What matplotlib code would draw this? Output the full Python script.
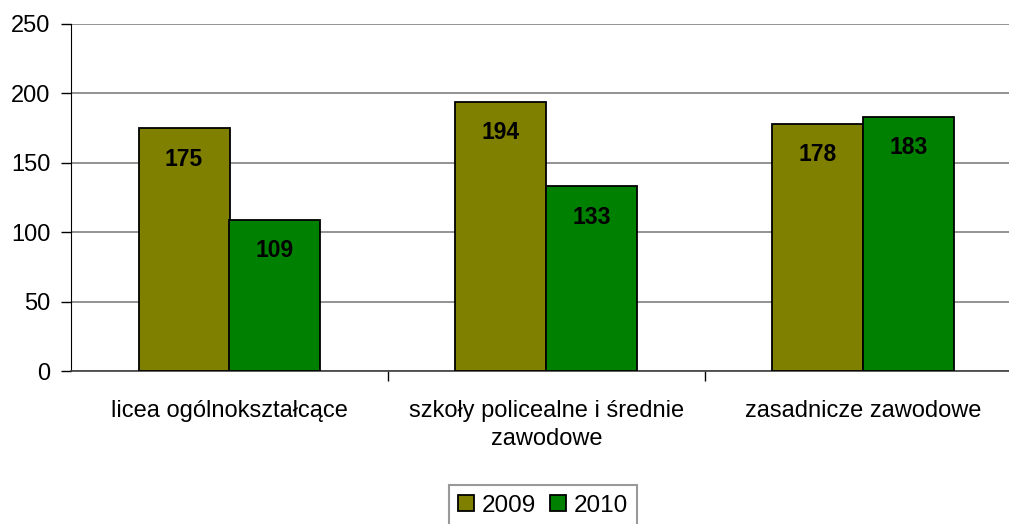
import matplotlib.pyplot as plt
import numpy as np

categories = ["licea ogólnokształcące", "szkoły policealne i średnie\nzawodowe", "zasadnicze zawodowe"]
series_names = ["2009", "2010"]
vals_2009 = [175, 194, 178]
vals_2010 = [109, 133, 183]
colors = ["#808000", "#008000"]

plt.rcParams['font.family'] = ['Liberation Sans', 'DejaVu Sans']

fig = plt.figure(figsize=(10.09, 5.24), dpi=100)
# plot area runs slightly past the right edge like in the original
ax = fig.add_axes([71 / 1009, 1 - 371 / 524, (1022 - 71) / 1009, 347 / 524])

x = np.arange(len(categories))
w = 91 / 317
for i, (vals, c, name) in enumerate(zip([vals_2009, vals_2010], colors, series_names)):
    b = ax.bar(x + (i - 0.5) * w, vals, w, color=c, edgecolor='black', linewidth=1.3,
               label=name, zorder=3)
    for rect, v in zip(b, vals):
        ax.annotate(str(v), (rect.get_x() + rect.get_width() / 2, v),
                    xytext=(0, -31), textcoords='offset pixels',
                    ha='center', va='center', fontsize=16.5, fontweight='bold', zorder=4)

ax.set_xlim(-0.5, 2.5)
ax.set_ylim(0, 250)
ax.set_yticks(np.arange(0, 251, 50))
ax.tick_params(axis='y', labelsize=17, length=7, width=1, direction='out', pad=8)
ax.yaxis.grid(True, color='#808080', linewidth=1.2, zorder=0)

ax.set_xticks(x)
ax.set_xticklabels(categories, fontsize=17, linespacing=1.35)
ax.tick_params(axis='x', length=0, pad=21)
ax.set_xticks([0.5, 1.5], minor=True)
ax.tick_params(axis='x', which='minor', length=7, width=1, color='black')

for s in ['top', 'right']:
    ax.spines[s].set_visible(False)
ax.spines['left'].set_color('black')
ax.spines['bottom'].set_color('#404040')
ax.spines['bottom'].set_linewidth(1.2)

leg = fig.legend(loc='upper center', bbox_to_anchor=(543 / 1009, 1 - 485 / 524), ncol=2,
                 fontsize=17.5, frameon=True, fancybox=False, edgecolor='#808080',
                 handlelength=0.65, handleheight=0.65, handletextpad=0.3, columnspacing=0.6,
                 borderpad=0.4, borderaxespad=0)
leg.get_frame().set_linewidth(1.5)
for h in leg.legend_handles:
    h.set_linewidth(1.3)

fig.savefig("out.png", dpi=100)
